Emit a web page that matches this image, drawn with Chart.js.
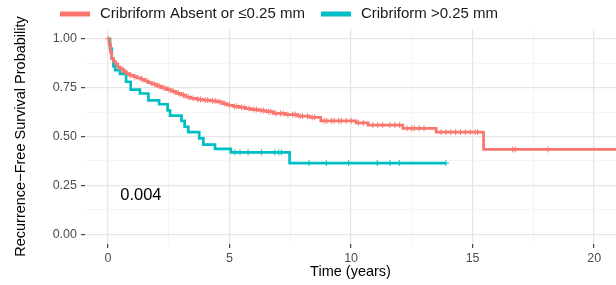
<!DOCTYPE html>
<html>
<head>
<meta charset="utf-8">
<script src="https://cdn.jsdelivr.net/npm/chart.js@4.4.0/dist/chart.umd.min.js"></script>
<style>
  body { margin: 0; background: #ffffff; }
  #wrap { width: 616px; height: 285px; }
</style>
</head>
<body>
<div id="wrap"><canvas id="kmChart" width="616" height="285"></canvas></div>
<script>
// group names
var groupLabels = ["Cribriform Absent or \u22640.25 mm", "Cribriform >0.25 mm"];
var groupColors = ["#F8766D", "#00BFC4"];

// step curve for the first group (time in years, survival probability)
var absentTime = [0, 0.05, 0.1, 0.15, 0.22, 0.3, 0.4, 0.5, 0.62, 0.75, 0.9, 1.05, 1.2, 1.35, 1.5, 1.65, 1.8, 2.0, 2.2, 2.4,
                  2.6, 2.8, 3.0, 3.2, 3.4, 3.65, 3.9, 4.2, 4.5, 4.7, 4.9, 5.15, 5.4, 5.65, 5.9, 6.2, 6.5, 6.8, 7.3, 7.8,
                  8.3, 8.75, 10.2, 10.7, 12.13, 13.5, 15.45, 21.5];
var absentSurv = [1.0, 0.97, 0.93, 0.90, 0.885, 0.872, 0.855, 0.843, 0.832, 0.822, 0.813, 0.806, 0.800, 0.792, 0.784, 0.776, 0.768, 0.758, 0.749, 0.740,
                  0.731, 0.721, 0.712, 0.702, 0.695, 0.690, 0.686, 0.682, 0.677, 0.668, 0.660, 0.654, 0.649, 0.643, 0.638, 0.633, 0.627, 0.618, 0.612, 0.604,
                  0.598, 0.580, 0.570, 0.558, 0.542, 0.522, 0.434, 0.434];
var absentCensor = [0, 0.3, 0.6, 0.9, 1.1, 1.4, 1.6, 1.9, 2.1, 2.3, 2.5, 2.7, 2.9, 3.1, 3.3, 3.5, 3.7, 3.8, 4.0, 4.1, 4.3, 4.4,
                    4.6, 4.8, 5.0, 5.2, 5.3, 5.5, 5.6, 5.8, 6.0, 6.1, 6.3, 6.4, 6.6, 6.7, 6.9, 7.1, 7.2, 7.4, 7.6, 7.7, 7.9,
                    8.0, 8.2, 8.4, 8.5, 8.9, 9.0, 9.2, 9.3, 9.5, 9.6, 9.8, 10.0, 10.3, 10.5, 10.9, 11.1, 11.3, 11.6, 11.8,
                    12.0, 12.3, 12.5, 12.6, 12.8, 13.0, 13.7, 13.9, 14.1, 14.3, 14.5, 14.7, 14.9, 15.1, 15.2, 16.65, 16.75, 18.1];

// step curve for the second group
var cribTime = [0, 0.08, 0.15, 0.22, 0.29, 0.49, 0.74, 0.93, 1.31, 1.66, 2.1, 2.45, 2.55, 3.02, 3.15, 3.3, 3.75, 3.92, 4.4, 5.05, 7.47, 13.9];
var cribSurv = [1.0, 0.95, 0.90, 0.86, 0.84, 0.82, 0.78, 0.74, 0.72, 0.685, 0.665, 0.634, 0.607, 0.58, 0.55, 0.522, 0.49, 0.458, 0.437, 0.419, 0.364, 0.364];
var cribCensor = [5.22, 5.43, 5.76, 6.31, 6.86, 7.02, 7.13, 8.27, 8.98, 9.9, 11.08, 11.6, 11.98, 13.9];

// axes
var xMajor = [0, 5, 10, 15, 20];
var xMinor = [2.5, 7.5, 12.5, 17.5];
var yMajor = [0, 0.25, 0.5, 0.75, 1.0];
var yMinor = [0.125, 0.375, 0.625, 0.875];

var pValueText = "0.004";
var pValueAt = [0.5, 0.2];

function toPoints(t, s) {
    var pts = [];
    for (var i = 0; i < t.length; i++) pts.push({x: t[i], y: s[i]});
    return pts;
}
// survival value of a step curve at time x
function survAt(t, s, x) {
    var v = s[0];
    for (var i = 0; i < t.length; i++) { if (t[i] <= x) v = s[i]; }
    return v;
}
function censorPoints(times, t, s) {
    return times.map(function(c) { return {x: c, y: survAt(t, s, c)}; });
}

var fontFam = "'Liberation Sans', Arial, sans-serif";

// legend above the panel and the p-value text
var extras = {
    id: 'extras',
    afterDraw: function(chart) {
        var ctx = chart.ctx;
        ctx.save();
        ctx.font = "15px " + fontFam;
        ctx.textBaseline = 'middle';
        var x = 60, y = 14;
        for (var i = 0; i < groupLabels.length; i++) {
            ctx.strokeStyle = groupColors[i];
            ctx.lineWidth = 5;
            ctx.beginPath();
            ctx.moveTo(x, y); ctx.lineTo(x + 30, y);
            ctx.stroke();
            ctx.fillStyle = '#1a1a1a';
            ctx.fillText(groupLabels[i], x + 40, y);
            x += 40 + ctx.measureText(groupLabels[i]).width + 16;
        }
        var xs = chart.scales.x, ys = chart.scales.y;
        ctx.font = "16.5px " + fontFam;
        ctx.fillStyle = '#000000';
        ctx.fillText(pValueText, xs.getPixelForValue(pValueAt[0]), ys.getPixelForValue(pValueAt[1]));
        ctx.restore();
    }
};

function gridOpts(majors) {
    return {
        color: function(c) { return c.tick && majors.indexOf(c.tick.value) >= 0 ? '#E6E6E6' : '#F2F2F2'; },
        lineWidth: function(c) { return c.tick && majors.indexOf(c.tick.value) >= 0 ? 1.3 : 0.8; },
        tickColor: function(c) { return c.tick && majors.indexOf(c.tick.value) >= 0 ? '#333333' : 'rgba(0,0,0,0)'; },
        tickWidth: 1.1,
        tickLength: 4,
        drawTicks: true
    };
}

var ctx = document.getElementById('kmChart');
var kmChart = new Chart(ctx, {
    type: 'line',
    data: {
        datasets: [{
            label: groupLabels[0],
            data: toPoints(absentTime, absentSurv),
            borderColor: groupColors[0],
            borderWidth: 2.7,
            stepped: true,
            pointRadius: 0,
            fill: false
        }, {
            label: groupLabels[1],
            data: toPoints(cribTime, cribSurv),
            borderColor: groupColors[1],
            borderWidth: 2.7,
            stepped: true,
            pointRadius: 0,
            fill: false
        }, {
            label: 'censor0',
            data: censorPoints(absentCensor, absentTime, absentSurv),
            showLine: false,
            pointStyle: 'cross',
            pointRadius: 3,
            pointBorderWidth: 1,
            borderColor: groupColors[0],
            backgroundColor: groupColors[0]
        }, {
            label: 'censor1',
            data: censorPoints(cribCensor, cribTime, cribSurv),
            showLine: false,
            pointStyle: 'cross',
            pointRadius: 3,
            pointBorderWidth: 1,
            borderColor: groupColors[1],
            backgroundColor: groupColors[1]
        }]
    },
    options: {
        responsive: false,
        animation: false,
        layout: { autoPadding: false, padding: { top: 29, right: 0, left: 0, bottom: 0 } },
        plugins: { legend: { display: false }, tooltip: { enabled: false } },
        scales: {
            x: {
                type: 'linear',
                min: -0.95,
                max: 20.9,
                afterBuildTicks: function(s) {
                    s.ticks = xMajor.concat(xMinor).sort(function(a, b) { return a - b; }).map(function(v) { return {value: v}; });
                },
                // fixed axis height, no extra side padding for the end labels
                afterFit: function(s) { s.height = 41; s.paddingRight = 0; s.paddingLeft = 0; },
                grid: gridOpts(xMajor),
                border: { display: false },
                ticks: {
                    autoSkip: false,
                    maxRotation: 0,
                    padding: 3,
                    color: '#4D4D4D',
                    font: { family: fontFam, size: 12.5 },
                    callback: function(v) { return xMajor.indexOf(v) >= 0 ? String(v) : ''; }
                },
                title: {
                    display: true,
                    text: 'Time (years)',
                    color: '#000000',
                    font: { family: fontFam, size: 14.5 },
                    padding: { top: 0, bottom: 4 }
                }
            },
            y: {
                type: 'linear',
                min: -0.05,
                max: 1.05,
                afterBuildTicks: function(s) {
                    s.ticks = yMajor.concat(yMinor).sort(function(a, b) { return a - b; }).map(function(v) { return {value: v}; });
                },
                afterFit: function(s) { s.width = 85; s.paddingTop = 0; s.paddingBottom = 0; },
                grid: gridOpts(yMajor),
                border: { display: false },
                ticks: {
                    autoSkip: false,
                    padding: 4,
                    color: '#4D4D4D',
                    font: { family: fontFam, size: 12.5 },
                    callback: function(v) { return yMajor.indexOf(v) >= 0 ? v.toFixed(2) : ''; }
                },
                title: {
                    display: true,
                    text: 'Recurrence\u2212Free Survival Probability',
                    color: '#000000',
                    font: { family: fontFam, size: 14.5 },
                    padding: { top: 12, bottom: 0 }
                }
            }
        }
    },
    plugins: [extras]
});
</script>
</body>
</html>
